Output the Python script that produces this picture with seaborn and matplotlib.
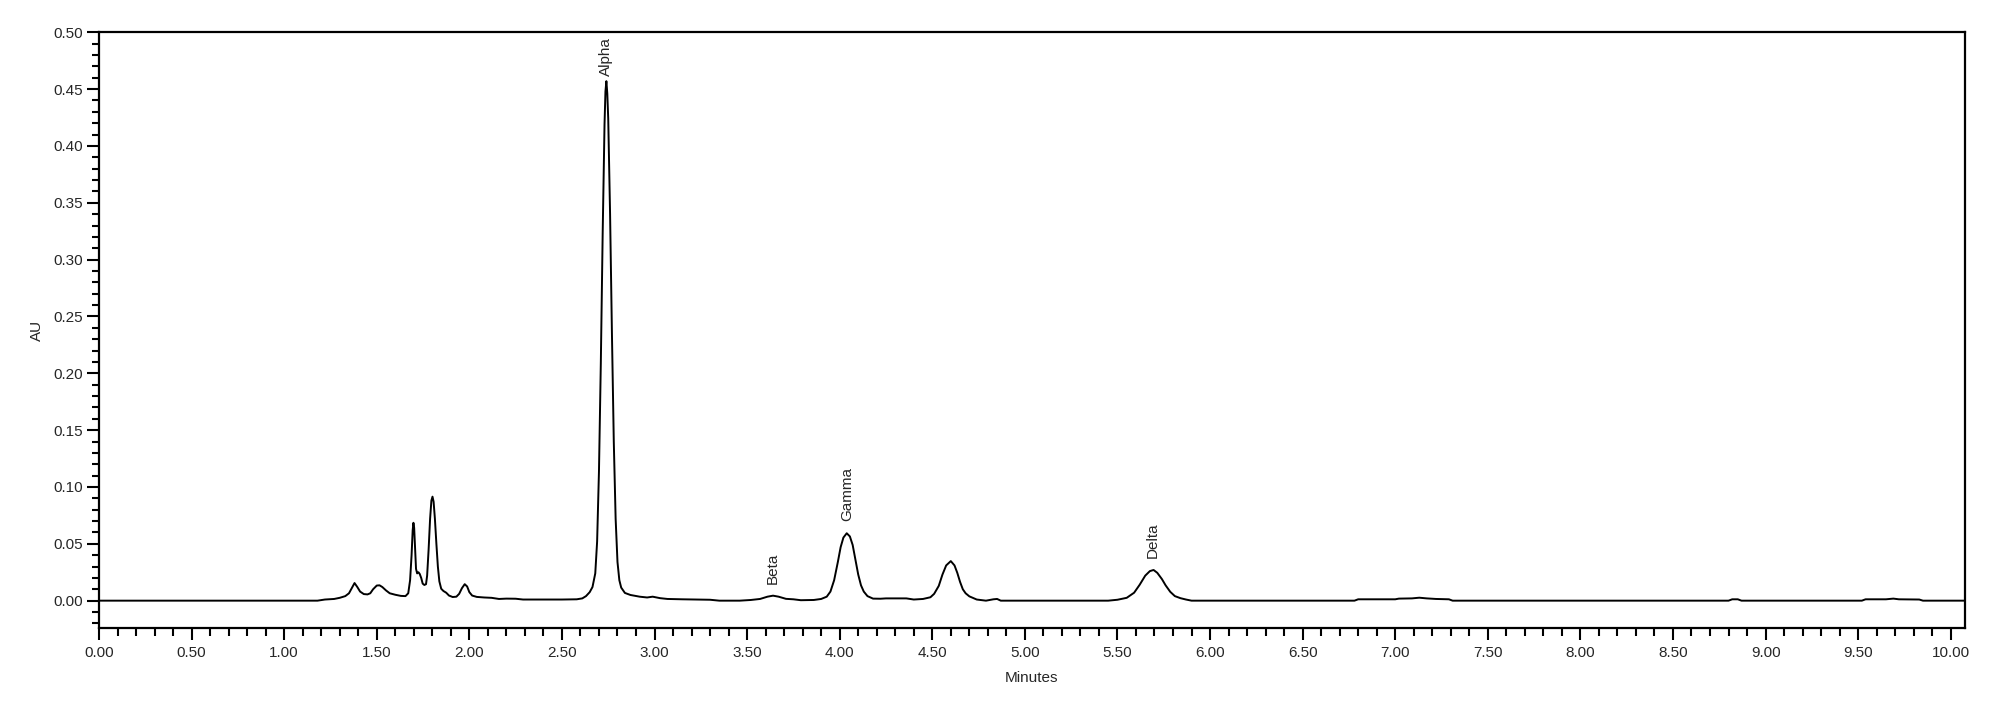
import numpy as np
import matplotlib
matplotlib.use('Agg')
import matplotlib.pyplot as plt
from matplotlib.ticker import MultipleLocator, FormatStrFormatter
import seaborn as sns

# chromatogram trace (minutes, AU)
minutes = [0.00, 1.18, 1.22, 1.27, 1.30, 1.33, 1.35, 1.365, 1.38, 1.395, 1.41, 1.43, 1.45, 1.465,
           1.48, 1.50, 1.515, 1.53, 1.55, 1.57, 1.60, 1.63, 1.655, 1.67, 1.68, 1.688, 1.694, 1.698,
           1.702, 1.707, 1.712, 1.718, 1.725, 1.732, 1.740, 1.748, 1.757, 1.766, 1.772, 1.780, 1.788,
           1.795, 1.801, 1.807, 1.814, 1.822, 1.830, 1.838, 1.848, 1.860, 1.875, 1.890, 1.91, 1.93,
           1.945, 1.960, 1.975, 1.988, 2.000, 2.015, 2.04, 2.08, 2.12, 2.16, 2.20, 2.25, 2.29, 2.40,
           2.50, 2.58, 2.61, 2.63, 2.65, 2.665, 2.68, 2.690, 2.700, 2.710, 2.720, 2.730, 2.735, 2.740,
           2.745, 2.750, 2.760, 2.770, 2.780, 2.790, 2.800, 2.810, 2.820, 2.840, 2.870, 2.920, 2.960,
           2.990, 3.030, 3.070, 3.15, 3.30, 3.35, 3.46, 3.52, 3.57, 3.61, 3.64, 3.67, 3.71, 3.75,
           3.79, 3.86, 3.90, 3.93, 3.95, 3.97, 3.99, 4.005, 4.02, 4.038, 4.055, 4.07, 4.085, 4.10,
           4.115, 4.13, 4.15, 4.18, 4.22, 4.25, 4.30, 4.36, 4.40, 4.45, 4.49, 4.51, 4.535, 4.555,
           4.575, 4.600, 4.620, 4.635, 4.65, 4.665, 4.68, 4.70, 4.74, 4.79, 4.83, 4.85, 4.87, 5.45,
           5.50, 5.55, 5.59, 5.62, 5.65, 5.675, 5.695, 5.715, 5.74, 5.76, 5.785, 5.81, 5.84, 5.87,
           5.90, 6.78, 6.80, 7.00, 7.02, 7.09, 7.13, 7.17, 7.22, 7.29, 7.31, 8.80, 8.82, 8.85, 8.87,
           9.52, 9.54, 9.65, 9.69, 9.72, 9.83, 9.85, 10.077]
absorbance = [0.0, 0.0, 0.001, 0.0015, 0.0025, 0.004, 0.0065, 0.011, 0.0155, 0.012, 0.008, 0.0058,
              0.0055, 0.0065, 0.010, 0.0133, 0.0135, 0.012, 0.009, 0.0065, 0.0052, 0.0042, 0.004,
              0.0065, 0.018, 0.040, 0.062, 0.0685, 0.064, 0.045, 0.028, 0.024, 0.025, 0.0235, 0.020,
              0.015, 0.0138, 0.0145, 0.022, 0.045, 0.072, 0.088, 0.0915, 0.087, 0.072, 0.050, 0.030,
              0.017, 0.0105, 0.0085, 0.007, 0.0045, 0.0032, 0.0035, 0.006, 0.011, 0.0145, 0.0125,
              0.0075, 0.0045, 0.0033, 0.0028, 0.0025, 0.0015, 0.0018, 0.0017, 0.001, 0.001, 0.001,
              0.0012, 0.002, 0.004, 0.0075, 0.012, 0.024, 0.052, 0.114, 0.209, 0.323, 0.419, 0.448,
              0.457, 0.446, 0.424, 0.340, 0.235, 0.140, 0.072, 0.034, 0.018, 0.0115, 0.0068, 0.005,
              0.0035, 0.0028, 0.0035, 0.0022, 0.0015, 0.0012, 0.0008, 0.0, 0.0, 0.0006, 0.0015,
              0.0035, 0.0044, 0.0035, 0.0016, 0.0012, 0.0004, 0.0006, 0.0015, 0.0035, 0.008, 0.018,
              0.034, 0.047, 0.0555, 0.0593, 0.0565, 0.049, 0.036, 0.023, 0.0135, 0.008, 0.004, 0.0018,
              0.0017, 0.002, 0.002, 0.002, 0.001, 0.0015, 0.003, 0.006, 0.013, 0.023, 0.031, 0.0348,
              0.031, 0.0245, 0.0165, 0.010, 0.0065, 0.0038, 0.001, 0.0, 0.0012, 0.0015, 0.0, 0.0,
              0.0008, 0.0025, 0.007, 0.014, 0.022, 0.026, 0.027, 0.0245, 0.019, 0.0135, 0.0078, 0.004,
              0.0022, 0.001, 0.0, 0.0, 0.0012, 0.0012, 0.0018, 0.002, 0.0026, 0.002, 0.0015, 0.0012,
              0.0, 0.0, 0.0012, 0.0012, 0.0, 0.0, 0.0012, 0.0012, 0.0018, 0.0012, 0.0010, 0.0, 0.0]

peak_names = ['Alpha', 'Beta', 'Gamma', 'Delta']
peak_times = [2.74, 3.64, 4.04, 5.69]

sns.set_style('white')
plt.rcParams['font.family'] = ['Liberation Sans', 'DejaVu Sans']
plt.rcParams['font.size'] = 11

fig = plt.figure(figsize=(20, 7.16), dpi=100)
ax = fig.add_axes([0.0495, 0.1233, 0.9330, 0.8316])

sns.lineplot(x=minutes, y=absorbance, ax=ax, color='black', linewidth=1.4, estimator=None, sort=False)

t = np.array(minutes)
a = np.array(absorbance)
for name, pt in zip(peak_names, peak_times):
    near = (t > pt - 0.03) & (t < pt + 0.03)
    top = a[near].max()
    off = 8.5 if top < 0.4 else 3.6  # the tall one is squeezed by the top frame
    ax.annotate(name, xy=(pt, top), xytext=(0, off), textcoords='offset points',
                rotation=90, ha='center', va='bottom', fontsize=11)

ax.set_xlim(0, 10.077)
ax.set_ylim(-0.0238, 0.50)
ax.xaxis.set_major_locator(MultipleLocator(0.5))
ax.xaxis.set_minor_locator(MultipleLocator(0.1))
ax.yaxis.set_major_locator(MultipleLocator(0.05))
ax.yaxis.set_minor_locator(MultipleLocator(0.01))
ax.xaxis.set_major_formatter(FormatStrFormatter('%.2f'))
ax.yaxis.set_major_formatter(FormatStrFormatter('%.2f'))

ax.tick_params(which='both', direction='out', width=1.5, color='black', labelsize=11,
               bottom=True, left=True, top=False, right=False)
ax.tick_params(which='major', length=8.3)
ax.tick_params(which='minor', length=5.4)
ax.tick_params(axis='x', which='major', pad=5)
ax.tick_params(axis='y', which='major', pad=3.5)

for s in ax.spines.values():
    s.set_linewidth(1.6)
    s.set_color('black')

ax.set_xlabel('Minutes', fontsize=11, labelpad=7.5)
ax.set_ylabel('AU', fontsize=11, labelpad=6.5)

fig.savefig('out.png', dpi=100)
